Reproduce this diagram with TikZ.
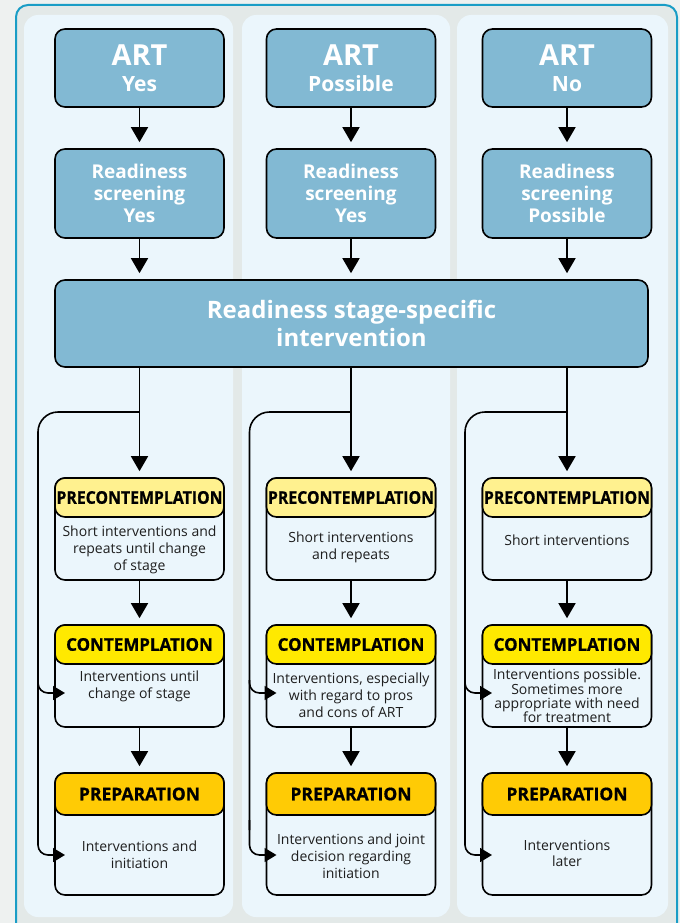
\documentclass[tikz,border=0pt]{standalone}
\usepackage{fontspec}
\setmainfont{Open Sans}
\newfontfamily\headfont[FakeBold=0.8]{Open Sans}
\usetikzlibrary{arrows.meta}
\definecolor{boxblue}{HTML}{82B9D3}
\definecolor{panel}{HTML}{EBF6FC}
\definecolor{frameteal}{HTML}{1A9DC6}
\definecolor{bggray}{HTML}{E3E9E8}
\definecolor{bglight}{HTML}{EEF1F0}
\definecolor{hpre}{HTML}{FFF18F}
\definecolor{hcon}{HTML}{FFE900}
\definecolor{hprep}{HTML}{FFCB05}
\definecolor{bodytext}{HTML}{1E1E1E}
\begin{document}
\begin{tikzpicture}[x=1pt,y=-1pt,
  bluebox/.style={draw=black, line width=1.6pt, fill=boxblue, rounded corners=10pt,
    text=white, font=\bfseries, align=center, inner sep=0pt, minimum width=169pt},
  arttitle/.style={text=white, font=\bfseries\fontsize{29}{30}\selectfont, inner sep=0pt},
  artsub/.style={text=white, font=\bfseries\fontsize{21}{22}\selectfont, inner sep=0pt},
  stagebody/.style={draw=black, line width=1.6pt, fill=panel, rounded corners=10pt,
    minimum width=169pt, inner sep=0pt},
  stagehead/.style={draw=black, line width=1.6pt, rounded corners=10pt,
    minimum width=169pt, inner sep=0pt, font=\headfont\bfseries\fontsize{17.5}{18}\selectfont, text=black},
  bodytxt/.style={font=\fontsize{14}{16.8}\selectfont, text=bodytext, align=center, inner sep=0pt},
  arr/.style={line width=1.6pt, -{Triangle[length=15pt,width=17pt]}, shorten >=6pt},
  looparr/.style={line width=1.6pt, -{Triangle[length=12pt,width=14pt]}},
  loopline/.style={line width=1.6pt},
]
\useasboundingbox (0,0) rectangle (680,923);
% background
\fill[bglight] (0,0) rectangle (680,923);
\draw[frameteal, line width=2pt, fill=bggray, rounded corners=12pt] (16,5) rectangle (677,945);
\fill[panel, rounded corners=14pt] (24,15) rectangle (233,917);
\fill[panel, rounded corners=14pt] (242,15) rectangle (450,917);
\fill[panel, rounded corners=14pt] (457,15) rectangle (668,917);

% top boxes
\node[bluebox, minimum height=78pt] (art1) at (139.5,68) {};
\node[bluebox, minimum height=78pt] (art2) at (351,68) {};
\node[bluebox, minimum height=78pt] (art3) at (567,68) {};
\node[arttitle] (art1t) at (139.5,55) {ART};
\node[arttitle] (art2t) at (351,55) {ART};
\node[arttitle] (art3t) at (567,55) {ART};
\node[artsub, anchor=base] (art1s) at (139.5,91.5) {Yes};
\node[artsub, anchor=base] (art2s) at (351,91.5) {Possible};
\node[artsub, anchor=base] (art3s) at (567,91.5) {No};

\node[bluebox, minimum height=89pt, font=\bfseries\fontsize{19}{22}\selectfont] (scr1) at (139.5,193.5) {Readiness\\screening\\Yes};
\node[bluebox, minimum height=89pt, font=\bfseries\fontsize{19}{22}\selectfont] (scr2) at (351,193.5) {Readiness\\screening\\Yes};
\node[bluebox, minimum height=89pt, font=\bfseries\fontsize{19}{22}\selectfont] (scr3) at (567,193.5) {Readiness\\screening\\Possible};

\node[bluebox, minimum width=593pt, minimum height=87pt, font=\bfseries\fontsize{24}{28}\selectfont] (big) at (351.5,323.5) {Readiness stage-specific\\intervention};

% stage boxes: bodies
\foreach \c/\x in {1/139.5, 2/351, 3/567}{
  \node[stagebody, minimum height=102pt] (pc\c) at (\x,529) {};
  \node[stagebody, minimum height=102pt] (co\c) at (\x,676) {};
  \node[stagebody, minimum height=122pt] (pr\c) at (\x,834) {};
  \node[stagehead, fill=hpre, minimum height=39pt] (pch\c) at (\x,497.5) {\scalebox{0.905}[1]{PRECONTEMPLATION}};
  \node[stagehead, fill=hcon, minimum height=39pt] (coh\c) at (\x,644.5) {\scalebox{0.97}[1]{CONTEMPLATION}};
  \node[stagehead, fill=hprep, minimum height=42pt] (prh\c) at (\x,794) {PREPARATION};
}

% body texts
\node[bodytxt] (t11) at (139.5,550) {Short interventions and\\repeats until change\\of stage};
\node[bodytxt] (t12) at (139.5,686) {Interventions until\\change of stage};
\node[bodytxt] (t13) at (139.5,854.5) {Interventions and\\initiation};
\node[bodytxt] (t21) at (351,547) {Short interventions\\and repeats};
\node[bodytxt] (t22) at (351,695) {Interventions, especially\\with regard to pros\\and cons of ART};
\node[bodytxt] (t23) at (351,856) {Interventions and joint\\decision regarding\\initiation};
\node[bodytxt] (t31) at (567,540) {Short interventions};
\node[bodytxt, font=\fontsize{14}{14.2}\selectfont] (t32) at (567,696) {Interventions possible.\\Sometimes more\\appropriate with need\\for treatment};
\node[bodytxt] (t33) at (567,853.5) {Interventions\\later};

% vertical arrows
\foreach \c in {1,2,3}{
  \draw[arr] (art\c.south) -- (scr\c.north);
  \draw[arr] (scr\c.south) -- (scr\c.south |- big.north);
  \draw[arr] (big.south -| pch\c.north) -- (pch\c.north);
  \draw[arr] (pc\c.south) -- (coh\c.north);
  \draw[arr] (co\c.south) -- (prh\c.north);
}

% feedback loops
\foreach \c/\x/\l in {1/139.5/55, 2/351/266.5, 3/567/482}{
  \coordinate (s\c) at (\x,412);
  \coordinate (k\c) at (\l-17,412);
  \coordinate (b\c) at (\l-17,855);
  \coordinate (m\c) at (\l-17,680);
  \coordinate (ac\c) at (\l+10,693);
  \coordinate (ap\c) at (\l+10,855);
  \draw[loopline, rounded corners=20pt] (s\c) -- (k\c) -- (\l-17,830);
  \draw[looparr, rounded corners=10pt] (\l-17,820) -- (b\c) -- (ap\c);
  \draw[looparr, rounded corners=10pt] (m\c) |- (ac\c);
}
\end{tikzpicture}
\end{document}
